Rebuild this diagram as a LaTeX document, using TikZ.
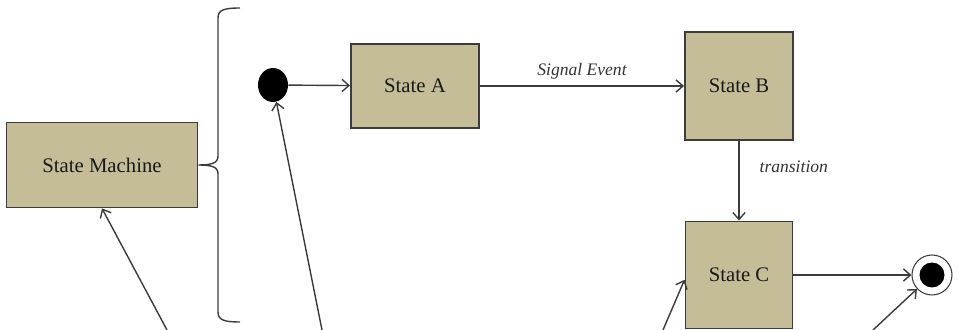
\documentclass[tikz,border=0pt]{standalone}
\usepackage{fontspec}
\setmainfont{Liberation Serif}
\usetikzlibrary{arrows.meta,shapes.geometric}
\definecolor{statefill}{RGB}{196,189,151}
\definecolor{edgegray}{RGB}{60,60,60}
\tikzset{
  state/.style={draw=edgegray, line width=1.1pt, fill=statefill, text=black!90,
    inner sep=0pt, font=\fontsize{11.8}{13}\selectfont},
  trans/.style={draw=edgegray, line width=0.8pt, -{Straight Barb[length=4pt,width=7pt]}},
  lbl/.style={font=\fontsize{10}{12}\selectfont\itshape, text=black!80},
}
\begin{document}
\begin{tikzpicture}[x=0.02cm,y=-0.02cm]
  \useasboundingbox (0,0) rectangle (958,330);
  % states
  \node[state, minimum width=3.82cm, minimum height=1.7cm] (sm) at (102,165) {State Machine};
  \node[state, minimum width=2.56cm, minimum height=1.68cm] (sa) at (415,86) {State A};
  \node[state, minimum width=2.16cm, minimum height=2.16cm] (sb) at (739,86) {State B};
  \node[state, minimum width=2.14cm, minimum height=2.14cm] (sc) at (739,275) {State C};
  % initial and final
  \node[ellipse, fill=black, inner sep=0pt, minimum width=0.6cm, minimum height=0.68cm] (init) at (273,85) {};
  \node[circle, draw=edgegray, line width=0.6pt, fill=white, inner sep=0pt, minimum size=0.8cm] (fin) at (932,275) {};
  \node[circle, fill=black, inner sep=0pt, minimum size=0.5cm] (finin) at (fin) {};
  % brace
  \draw[edgegray, line width=0.8pt] (240,8) .. controls (224,8) and (218,10) .. (218,18) -- (218,156)
    .. controls (218,163) and (212,165) .. (sm.east)
    .. controls (212,165) and (218,167) .. (218,174) -- (218,312)
    .. controls (218,320) and (224,322) .. (240,322);
  % transitions
  \draw[trans] (init) -- (sa);
  \draw[trans] (sa) -- node[lbl, above=0pt] {Signal Event} (sb);
  \draw[trans] (sb) -- node[lbl, right=8pt, pos=0.32] {transition} (sc);
  \draw[trans] (sc) -- (fin);
  % lines from below
  \coordinate (b1) at (167,330);
  \coordinate (b2) at (322,330);
  \coordinate (b3) at (663,330);
  \coordinate (b4) at (873,330);
  \draw[trans] (b1) -- (sm.south);
  \draw[trans] (b2) -- (init);
  \draw[trans] (b3) -- (sc.185);
  \draw[trans] (b4) -- (fin);
\end{tikzpicture}
\end{document}
